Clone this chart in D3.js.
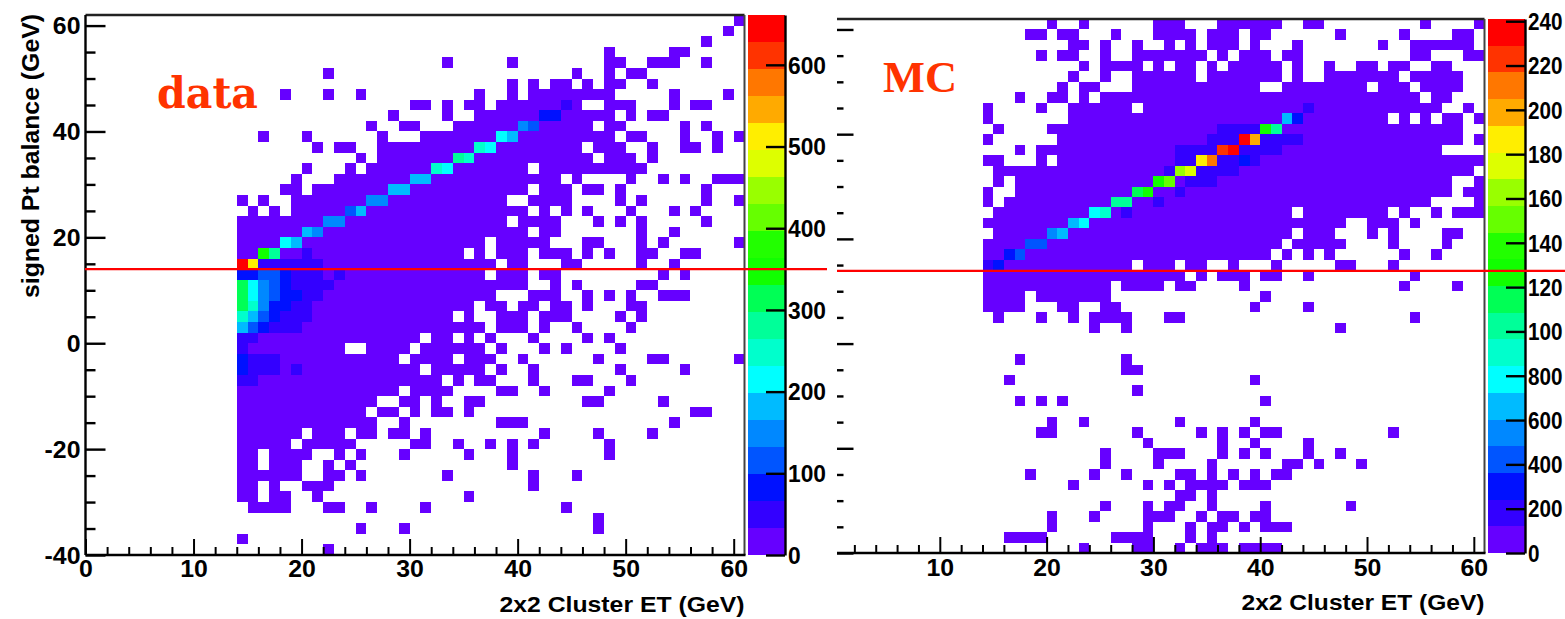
<!DOCTYPE html>
<html><head><meta charset="utf-8">
<script src="https://cdn.jsdelivr.net/npm/d3@7/dist/d3.min.js"></script>
<style>
html,body{margin:0;padding:0;background:#fff;overflow:hidden}
svg{display:block}
text{font-family:"Liberation Sans",Arial,sans-serif;font-weight:700;fill:#000}
</style></head><body>
<svg id="c" width="1565" height="619"></svg>
<script>
// Row bins run from the top of the plot (60 to 62 GeV) down to (-40 to -38 GeV)
const rowLows = d3.range(60, -42, -2);
const dataRows = [
"60","59","57","48 54-55","33 39 48-49 52-54 57","22 45 48 50-51","39 41 43-44 46 48-49 52",
"18 22 25 36 39 41-48 54 59","30-31 33 35-36 38-45 48-50 54 56-57","28 33 36-48 50 52-53",
"26 29-30 34-46 48-49 55 57","16 20 27 31-48 50-51 55 58 60","21 23-24 27-45 47-49 52 55-56 58",
"25 27-46 48-50 52","20 24 26-40 42-51","19 23-43 45 50 53 55 58-60","18-19 21-40 42-44 46-47 49 57",
"14 16 19-38 41-44 49 51 57 60","15 17 19-40 42 44 46 50 54 56","14-38 40-43 47 49 51 57",
"14-40 42-43 51 54","14-36 38-42 46-47 51 53 60","14-34 36 38-40 42-44 46 48 51-52 55-56",
"14-37 39-40 44-45 51 54","14-36 38-40 42-43 53 55","14-40 43 45 51-52","14-37 41-43 46 48 50 53-55",
"14-35 37-38 40-41 43-44 46 50-51","14-33 35 38-40 42-44 49 51","14-36 38-40 42 45 50",
"14-30 32-33 35 37 41 46 48","14-23 26-29 31-36 38 42 44 49","14-28 30-33 35-37 40 47 52-53 60",
"14-30 32-36 38 41 49 55","14-32 34 36-37 41 45-46 50","14-28 30-33 38-39 42 48",
"14-26 29-30 32 35-36 46-47 53","14-25 27-28 30 32-33 35 56-57","14-26 29 38-40 54",
"14-19 21-23 25-26 28-29 31 42 47 52","14-18 20-24 30-31 34 37 39 41 48","14-15 17-20 23 25 29 35 39 48",
"14-15 17-19 22 24 39","14-19 22-23 25 33 41 45","14-15 17 20-22 41","14-15 17-18 21 35",
"15-18 22-23 26 31 44","47","25 29 47","14","22"];
const dataBase = 10;
const dataPeakX = [14,15,16,17,18,19,20,21,16,17,20,18,19,20,21,22,23,24,25,26,27,28,29,30,31,32,33,34,35,36,37,38,39,40,41,42,43,44,
 14,15,16,17,18,19,20,21,23, 14,15,16,17,18,19,20,21,22, 14,15,16,17,18,19,20,21, 14,15,16,17,18,19,20, 14,15,16,17,18,19,20, 14,15,16,17,18,19, 14,15, 14, 14,15,16,17, 14,15,16,17,19, 14,15];
const dataPeakY = [14,14,14,14,14,14,14,14,16,16,16,18,18,20,20,22,22,24,24,26,26,28,28,30,30,32,32,34,34,36,36,38,38,40,40,42,42,44,
 12,12,12,12,12,12,12,12,12, 10,10,10,10,10,10,10,10,10, 8,8,8,8,8,8,8,8, 6,6,6,6,6,6,6, 4,4,4,4,4,4,4, 2,2,2,2,2,2, 0,0, -2, -4,-4,-4,-4, -6,-6,-6,-6,-6, -8,-8];
const dataPeakZ = [645,512,49,49,49,49,49,49,347,280,49,214,181,181,148,148,148,115,181,148,148,181,181,181,181,247,214,280,247,247,214,214,181,148,115,82,82,49,
 82,82,115,115,82,49,49,49,49, 314,214,148,115,82,49,49,49,49, 314,214,148,115,82,82,49,49, 314,247,148,82,82,49,49, 247,181,115,82,49,49,49, 181,115,82,49,49,49, 49,49, 49, 82,49,49,49, 82,49,49,49,49, 49,49];

const mcRows = [
"20 23 30-32 36-41 44-45 55 60","18-19 21-22 26 30-33 35-37 39-40 47 53 58-59",
"22-23 25 28 31 33 35-37 39 43 51 54-59","19 21-22 25 28-34 36 38-40 42-43 54-55 59-60",
"23 25-28 30 32-33 35 37-41 43 46 49-50 52-53 56-57","22 25 28-33 35-41 43 46-52 54-58",
"21 23-24 28-39 42-49 51-53 55-58","17 20-21 23 25-54 56-57","14 19 22-27 29-56 59",
"14 22-51 53 55 57-58 60","15 20-58","14 21-58 60","17 19-56","14-15 19 21-60","15-59",
"15 17-57 60","14 17-57 59-60","14 16-55 60","15-42 44-51 53 56 58-60","14-47 50-52 54",
"15-42 44-46 50 52 57-58","14-41 43-47 52 57","14-40 42 44 46 53 56","14-27 29-31 33-34 37 41 47-48 52",
"14-32 34 36-38 40-41 44 54","14-25 27-30 32-33 38 53 58","14-17 19-25 40","14-17 21-22 25-26 39 44",
"15 19 22 24-27 31-32 54","24 27 47","","","17 27","27-28","16 39","28","17 19 21 40","",
"20 23 32 39","19-20 28 34 36 38 40-41 52","29 36 39 44","25 30-32 36 38 40 44 47",
"25 30 35 42-43 45 49","18 24 27 32-33 35 37 39 41-42","22 29 31 33-36 38-40","32-33 35",
"25 29 31-32 35 40 48","20 24 29-31 34 36-37 39-40","20 29 33 35-36 38 40-42",
"16-19 26-29 33 35","23 28-29 32 34-36 38-41"];
const mcBase = 35;
const mcPeakX = [44,42,43,36,37,38,39,40,41,35,36,37,38,39,40,41,42,43,32,33,34,35,36,37,38,39,40,41,32,33,34,35,36,37,38,39,31,32,33,34,35,36,37,30,31,32,33,34,35,28,29,32,26,27,30,24,25,27,22,23,20,21,18,19,16,17,14,15];
const mcPeakY = [44,42,42,40,40,40,40,40,40,38,38,38,38,38,38,38,38,38,36,36,36,36,36,36,36,36,36,36,34,34,34,34,34,34,34,34,32,32,32,32,32,32,32,30,30,30,30,30,30,28,28,28,26,26,26,24,24,24,22,22,20,20,18,18,16,16,14,14];
const mcPeakZ = [180,660,300,180,180,180,180,1265,1020,180,180,180,2350,1990,180,180,180,180,180,180,180,180,2230,2350,180,180,180,180,180,180,1870,2110,180,180,300,180,180,1630,1750,180,180,180,180,1265,1510,60,180,180,180,1140,1265,180,1020,1020,180,780,900,180,660,780,540,660,420,420,300,420,180,300];

const palette = ["#6600ff","#3300ff","#0011ff","#0055ff","#0088ff","#00bbff","#00ffff","#00ffcc","#00ff99","#00ff55","#11ff00","#22ff00","#66ff00","#99ff00","#ddff00","#ffee00","#ffaa00","#ff7700","#ff3300","#ff0000"];
const xMajor = [0,10,20,30,40,50,60];
const xMajorMC = [10,20,30,40,50,60];
const xMinor = d3.range(2,61,2).filter(d=>d%10);
const yMajor = [60,40,20,0,-20,-40];
const yMinor = d3.range(-35,61,5).filter(d=>d%20);
const zTicksData = [0,100,200,300,400,500,600];
const zLabelsData = ["0","100","200","300","400","500","600"];
const zTicksMC = [0,200,400,600,800,1000,1200,1400,1600,1800,2000,2200,2400];
// as printed in the reference: the panel edge leaves only the first three digits of the four-digit labels
const zLabelsMC = ["0","200","400","600","800","100","120","140","160","180","200","220","240"];
const xTitle = "2x2 Cluster ET (GeV)";
const yTitle = "signed Pt balance (GeV)";

const svg = d3.select("#c");

function parseRow(s){
  if(!s) return [];
  return s.split(" ").flatMap(t=>{
    const p=t.split("-").map(Number);
    return p.length>1 ? d3.range(p[0],p[1]+1) : p;
  });
}
function cells(rows, base, px, py, pz){
  const m=new Map();
  rows.forEach((r,i)=>parseRow(r).forEach(x=>m.set(x+"|"+rowLows[i],{x,y:rowLows[i],z:base})));
  px.forEach((x,i)=>m.set(x+"|"+py[i],{x,y:py[i],z:pz[i]}));
  return [...m.values()];
}
function stretch(sel,k){
  sel.each(function(){
    const w=this.getComputedTextLength();
    d3.select(this).attr("textLength",w*k).attr("lengthAdjust","spacingAndGlyphs");
  });
}

function panel(o){
  const g=svg.append("g");
  const x=d3.scaleLinear().domain([0,61]).range([o.x0,o.x1]);
  const y=d3.scaleLinear().domain([-40,62]).range([o.y0,o.y1]);
  const z=d3.scaleQuantize().domain([0,o.zMax]).range(palette);
  g.append("g").attr("shape-rendering","crispEdges").selectAll("rect").data(o.cells).join("rect")
    .attr("x",d=>x(d.x)).attr("width",d=>x(d.x+1)-x(d.x))
    .attr("y",d=>y(d.y+2)).attr("height",d=>y(d.y)-y(d.y+2))
    .attr("fill",d=>z(d.z));

  // frame
  g.append("line").attr("x1",o.frameX).attr("x2",o.x1).attr("y1",o.y1).attr("y2",o.y1).attr("stroke","#222").attr("stroke-width",2.4);
  g.append("line").attr("x1",o.x1).attr("x2",o.x1).attr("y1",o.y1).attr("y2",o.y0).attr("stroke","#444").attr("stroke-width",2);

  // x axis
  const ax=g.append("g").attr("transform",`translate(0,${o.y0})`)
    .call(d3.axisBottom(x).tickValues(o.xMajor).tickFormat(String).tickSizeInner(-16).tickSizeOuter(0).tickPadding(5));
  ax.select(".domain").remove();
  ax.selectAll("line").attr("stroke","#000").attr("stroke-width",2);
  ax.selectAll("text").attr("font-size",23).attr("dy",0).attr("y",o.xLabelY-o.y0).call(stretch,1.08);
  const axm=g.append("g").attr("transform",`translate(0,${o.y0})`)
    .call(d3.axisBottom(x).tickValues(xMinor).tickFormat("").tickSizeInner(-8).tickSizeOuter(0));
  axm.select(".domain").remove();
  axm.selectAll("line").attr("stroke","#000").attr("stroke-width",2);
  g.append("line").attr("x1",o.frameX).attr("x2",o.x1+1).attr("y1",o.y0).attr("y2",o.y0).attr("stroke","#000").attr("stroke-width",2.4);

  // y axis ticks, drawn rightwards from the left edge
  const ay=g.append("g").attr("transform",`translate(${o.frameX},0)`)
    .call(d3.axisLeft(y).tickValues(yMajor).tickFormat(o.yLabels?String:"").tickSizeInner(-o.yMajLen).tickSizeOuter(0).tickPadding(5));
  ay.select(".domain").remove();
  ay.selectAll("line").attr("stroke","#000").attr("stroke-width",2.4);
  ay.selectAll("text").attr("font-size",23).attr("x",-5).attr("dy","0.36em").call(stretch,1.08);
  const aym=g.append("g").attr("transform",`translate(${o.frameX},0)`)
    .call(d3.axisLeft(y).tickValues(yMinor).tickFormat("").tickSizeInner(-o.yMinLen).tickSizeOuter(0));
  aym.select(".domain").remove();
  aym.selectAll("line").attr("stroke","#000").attr("stroke-width",2.4);
  if(o.yLabels) g.append("line").attr("x1",o.frameX).attr("x2",o.frameX).attr("y1",o.y1).attr("y2",o.y0).attr("stroke","#000").attr("stroke-width",2.4);

  // colour bar
  const zs=d3.scaleLinear().domain([0,o.zMax]).range([o.y0,o.y1]);
  const step=o.zMax/palette.length;
  g.append("g").attr("shape-rendering","crispEdges").selectAll("rect").data(palette).join("rect")
    .attr("x",o.barX0).attr("width",o.barX1-o.barX0)
    .attr("y",(d,i)=>zs((i+1)*step)).attr("height",(d,i)=>zs(i*step)-zs((i+1)*step))
    .attr("fill",d=>d);
  const azi=g.append("g").attr("transform",`translate(${o.barX1},0)`)
    .call(d3.axisRight(zs).tickValues(o.zTicks).tickFormat((d,i)=>o.zLabels[i]).tickSizeInner(-19).tickSizeOuter(0).tickPadding(3));
  azi.select(".domain").attr("stroke","#000").attr("stroke-width",2.4);
  azi.selectAll("line").attr("stroke","#000").attr("stroke-width",2.4);
  azi.selectAll("text").attr("font-size",23).attr("dy","0.36em").call(stretch,o.zStretch);

  // axis title
  g.append("text").attr("x",o.x1).attr("y",o.xTitleY).attr("text-anchor","end").attr("font-size",22.5)
    .attr("textLength",o.xTitleLen).attr("lengthAdjust","spacingAndGlyphs").text(xTitle);

  // red line
  g.append("line").attr("x1",o.redX0).attr("x2",o.redX1).attr("y1",y(o.redY)).attr("y2",y(o.redY)).attr("stroke","#ff0000").attr("stroke-width",2.2);
}

panel({name:"data",x0:85.5,x1:744.5,y0:555,y1:15,frameX:85.5,zMax:661,
  cells:cells(dataRows,dataBase,dataPeakX,dataPeakY,dataPeakZ),
  xMajor,xLabelY:577,yLabels:true,yMajLen:20,yMinLen:10,
  barX0:748,barX1:785,zTicks:zTicksData,zLabels:zLabelsData,zStretch:0.99,
  xTitleY:612,xTitleLen:245,redX0:85,redX1:827,redY:14});

panel({name:"mc",x0:833,x1:1484.5,y0:553,y1:19,frameX:837,zMax:2410,
  cells:cells(mcRows,mcBase,mcPeakX,mcPeakY,mcPeakZ),
  xMajor:xMajorMC,xLabelY:576,yLabels:false,yMajLen:16.5,yMinLen:6.5,
  barX0:1488,barX1:1525,zTicks:zTicksMC,zLabels:zLabelsMC,zStretch:0.9,
  xTitleY:610,xTitleLen:243,redX0:837,redX1:1565,redY:13.9});

svg.append("text").attr("transform","translate(39,298) rotate(-90)").attr("font-size",23)
  .attr("textLength",284).attr("lengthAdjust","spacingAndGlyphs").text(yTitle);

svg.append("text").attr("x",157).attr("y",108).attr("font-size",43)
  .attr("textLength",101).attr("lengthAdjust","spacingAndGlyphs")
  .style("font-family","'DejaVu Serif',serif").style("fill","#ff3300").text("data");
svg.append("text").attr("x",883).attr("y",92).attr("font-size",44)
  .attr("textLength",74).attr("lengthAdjust","spacingAndGlyphs")
  .style("font-family","'Liberation Serif',serif").style("fill","#ff3300").text("MC");
</script>
</body></html>
